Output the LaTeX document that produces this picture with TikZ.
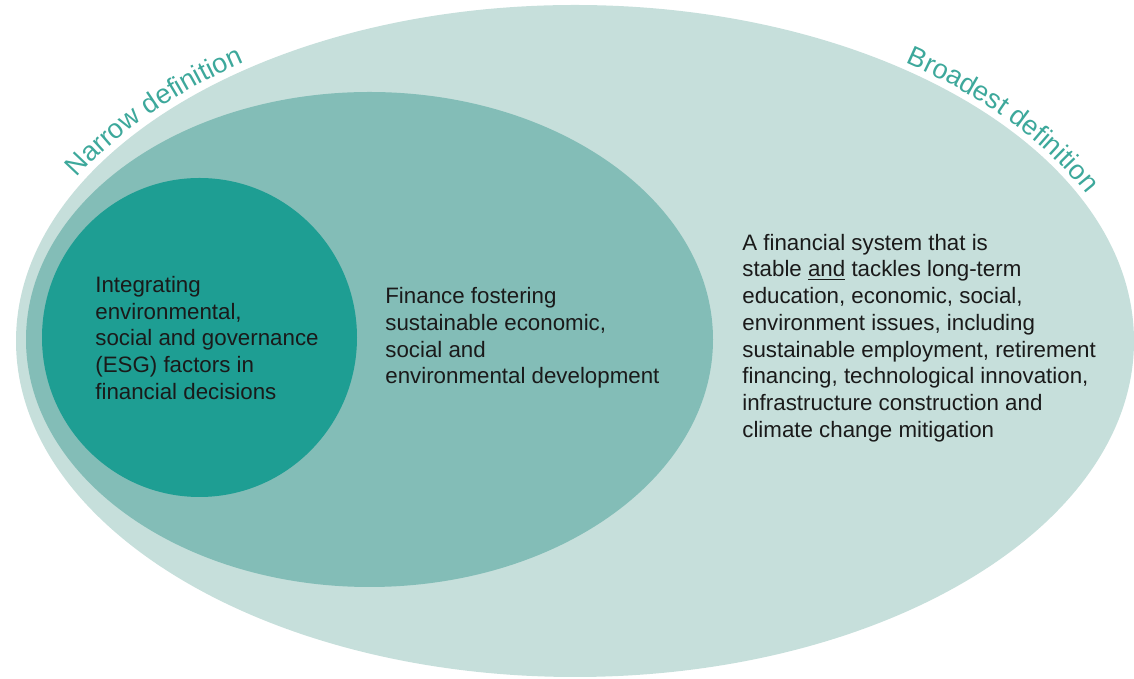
\documentclass[tikz,border=0pt]{standalone}
\usepackage{fontspec}
\setmainfont{Liberation Sans}
\usetikzlibrary{decorations.text}
\definecolor{broadfill}{HTML}{C6DFDB}
\definecolor{midfill}{HTML}{83BDB7}
\definecolor{esgfill}{HTML}{1E9E93}
\definecolor{labteal}{HTML}{3DA89B}
\definecolor{bodytext}{HTML}{1A1A1A}
\begin{document}
\begin{tikzpicture}[x=0.02cm,y=0.02cm,
  blurb/.style={anchor=west,align=left,inner sep=0pt,text=bodytext,font=\fontsize{12.7}{15.2}\selectfont},
  arclabel/.style={decorate,decoration={text along path,text align=center,text color=labteal,
    text={|\fontsize{15.5}{17}\selectfont|#1}}}]
\useasboundingbox (0,0) rectangle (1134,679);
\fill[broadfill] (575,338) ellipse [x radius=559,y radius=336];
\fill[midfill] (369.5,339.5) ellipse [x radius=343.5,y radius=247.5];
\fill[esgfill] (199.5,341.5) ellipse [x radius=157.5,y radius=159.5];
\node[blurb] (esg) at (95,341) {Integrating\\environmental,\\social and governance\\(ESG) factors in\\financial decisions};
\node[blurb] (fostering) at (385,341) {Finance fostering\\sustainable economic,\\social and\\environmental development};
\node[blurb] (broadest) at (742,341) {A financial system that is\\stable \underline{and} tackles long-term\\education, economic, social,\\environment issues, including\\sustainable employment, retirement\\financing, technological innovation,\\infrastructure construction and\\climate change mitigation};
\path[arclabel=Narrow definition] (575,338) ++(162:566 and 343) arc [start angle=162,end angle=118,x radius=566,y radius=343];
\path[arclabel=Broadest definition] (575,338) ++(59:566 and 343) arc [start angle=59,end angle=19,x radius=566,y radius=343];
\end{tikzpicture}
\end{document}
